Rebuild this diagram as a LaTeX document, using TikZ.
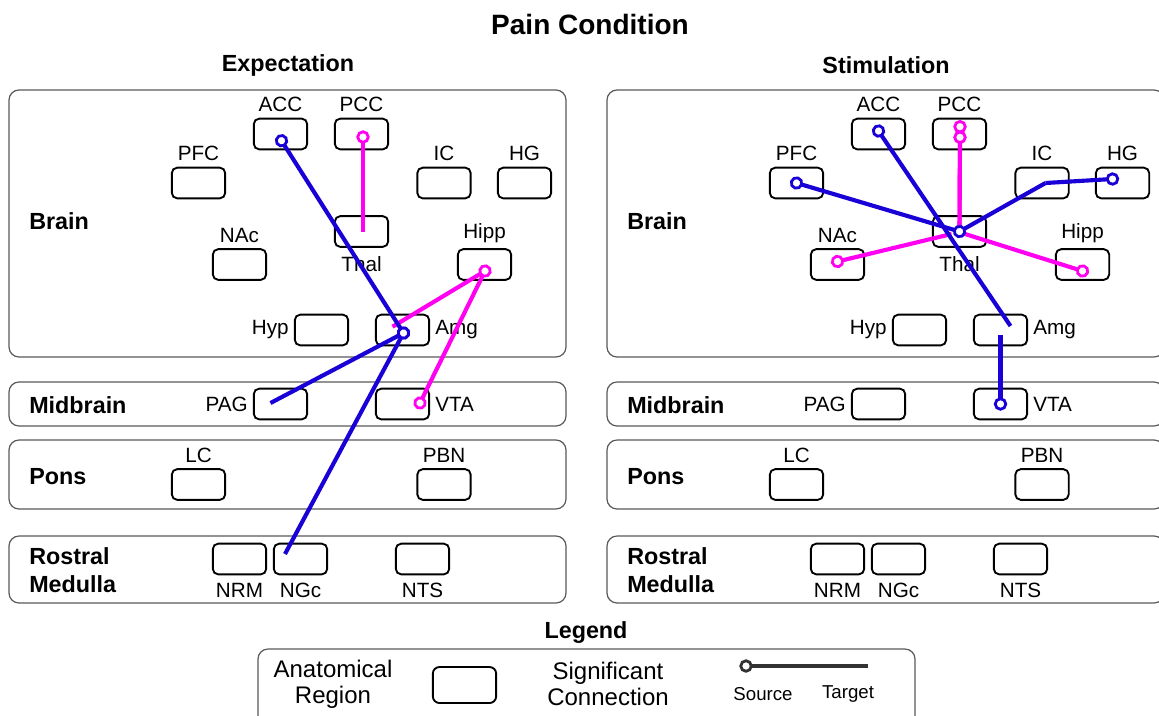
\documentclass[tikz,border=0pt]{standalone}
\usepackage{fontspec}
\setmainfont{Liberation Sans}
\usetikzlibrary{arrows.meta}
\definecolor{conblue}{RGB}{25,0,215}
\definecolor{conpink}{RGB}{255,0,240}
\tikzset{
  panel/.style={draw=black!65, line width=0.9pt, rounded corners=7.5pt},
  reg/.style={draw, line width=1.4pt, rounded corners=4pt, minimum width=40pt, minimum height=23pt, inner sep=0pt},
  lab/.style={font=\fontsize{15.5}{17}\selectfont, inner sep=1pt, yshift=3pt},
  labb/.style={font=\fontsize{15.5}{17}\selectfont, inner sep=1pt, yshift=-5pt},
  labl/.style={font=\fontsize{15.5}{17}\selectfont, inner sep=0pt, xshift=-3.7pt},
  labr/.style={font=\fontsize{15.5}{17}\selectfont, inner sep=0pt, xshift=3.7pt},
  head/.style={font=\bfseries\fontsize{17.5}{20}\selectfont},
  part/.style={font=\bfseries\fontsize{17.5}{21.5}\selectfont, anchor=west, align=left, inner sep=0pt},
  ltxt/.style={font=\fontsize{18}{19.5}\selectfont, align=center},
  stxt/.style={font=\fontsize{14}{15}\selectfont},
  con/.style={line width=3.1pt},
  src/.style={{Circle[length=10pt, fill=white, line width=2.1pt]}-, shorten <=-5pt},
}
\begin{document}
\begin{tikzpicture}[x=0.75pt, y=-0.75pt]
\useasboundingbox (0,0) rectangle (1159,715);
%Titles
\node[font=\bfseries\fontsize{21}{24}\selectfont] (title) at (590,24) {Pain Condition};
\node[head] (expt) at (288,65) {Expectation};
\node[head] (stim) at (886,65) {Stimulation};
%Expectation panel
\draw[panel] (9,90) rectangle (566,357);
\draw[panel] (9,382) rectangle (566,426);
\draw[panel] (9,440) rectangle (566,509);
\draw[panel] (9,536) rectangle (566,603);
\node[part] (ebrain) at (29,221) {Brain};
\node[part] (emid) at (29,405) {Midbrain};
\node[part] (epons) at (29,477) {Pons};
\node[part] (emed) at (29,570) {Rostral\\Medulla};
\node[reg, label={[lab]above:ACC}] (eACC) at (280.5,134) {};
\node[reg, label={[lab]above:PCC}] (ePCC) at (361.5,134) {};
\node[reg, label={[lab]above:PFC}] (ePFC) at (198.5,183) {};
\node[reg, label={[lab]above:IC}] (eIC) at (444,183) {};
\node[reg, label={[lab]above:HG}] (eHG) at (524.5,183) {};
\node[reg, label={[labb]below:Thal}] (eThal) at (361.5,231.5) {};
\node[reg, label={[lab]above:NAc}] (eNAc) at (239.5,264.5) {};
\node[reg, label={[lab]above:Hipp}] (eHipp) at (484.5,264.5) {};
\node[reg, label={[labl]left:Hyp}] (eHyp) at (321.5,330) {};
\node[reg, label={[labr]right:Amg}] (eAmg) at (402.5,330) {};
\node[reg, label={[labl]left:PAG}] (ePAG) at (280.5,404) {};
\node[reg, label={[labr]right:VTA}] (eVTA) at (402.5,404) {};
\node[reg, label={[lab]above:LC}] (eLC) at (198.5,484.5) {};
\node[reg, label={[lab]above:PBN}] (ePBN) at (444,484.5) {};
\node[reg, label={[labb]below:NRM}] (eNRM) at (239.5,559) {};
\node[reg, label={[labb]below:NGc}] (eNGc) at (300.5,559) {};
\node[reg, label={[labb]below:NTS}] (eNTS) at (422.5,559) {};
%Stimulation panel
\begin{scope}[xshift=448.5pt]
\draw[panel] (9,90) rectangle (566,357);
\draw[panel] (9,382) rectangle (566,426);
\draw[panel] (9,440) rectangle (566,509);
\draw[panel] (9,536) rectangle (566,603);
\node[part] (sbrain) at (29,221) {Brain};
\node[part] (smid) at (29,405) {Midbrain};
\node[part] (spons) at (29,477) {Pons};
\node[part] (smed) at (29,570) {Rostral\\Medulla};
\node[reg, label={[lab]above:ACC}] (sACC) at (280.5,134) {};
\node[reg, label={[lab]above:PCC}] (sPCC) at (361.5,134) {};
\node[reg, label={[lab]above:PFC}] (sPFC) at (198.5,183) {};
\node[reg, label={[lab]above:IC}] (sIC) at (444,183) {};
\node[reg, label={[lab]above:HG}] (sHG) at (524.5,183) {};
\node[reg, label={[labb]below:Thal}] (sThal) at (361.5,231.5) {};
\node[reg, label={[lab]above:NAc}] (sNAc) at (239.5,264.5) {};
\node[reg, label={[lab]above:Hipp}] (sHipp) at (484.5,264.5) {};
\node[reg, label={[labl]left:Hyp}] (sHyp) at (321.5,330) {};
\node[reg, label={[labr]right:Amg}] (sAmg) at (402.5,330) {};
\node[reg, label={[labl]left:PAG}] (sPAG) at (280.5,404) {};
\node[reg, label={[labr]right:VTA}] (sVTA) at (402.5,404) {};
\node[reg, label={[lab]above:LC}] (sLC) at (198.5,484.5) {};
\node[reg, label={[lab]above:PBN}] (sPBN) at (444,484.5) {};
\node[reg, label={[labb]below:NRM}] (sNRM) at (239.5,559) {};
\node[reg, label={[labb]below:NGc}] (sNGc) at (300.5,559) {};
\node[reg, label={[labb]below:NTS}] (sNTS) at (422.5,559) {};
\end{scope}
%Expectation connections
\draw[con, conpink, src] ([shift={(1.5,3)}]ePCC.center) -- ([shift={(1.5,0)}]eThal.center);
\draw[con, conpink, src] ([shift={(17.5,-1)}]eVTA.center) -- ([shift={(0.5,6.5)}]eHipp.center);
\draw[con, conpink, src] ([shift={(0.5,6.5)}]eHipp.center) -- ([shift={(-10,-3.3)}]eAmg.center);
\draw[con, conblue, src] ([shift={(1,6.7)}]eACC.center) -- ([shift={(1,3)}]eAmg.center);
\draw[con, conblue, src] ([shift={(1,3)}]eAmg.center) -- ([shift={(-10,-1)}]ePAG.center);
\draw[con, conblue, src] ([shift={(1,3)}]eAmg.center) -- ([shift={(-15.5,-5)}]eNGc.center);
%Stimulation connections
\draw[con, conpink, src] ([shift={(0.5,-7.3)}]sPCC.center) -- (sThal.center);
\draw[con, conpink, src] ([shift={(0.5,3.3)}]sPCC.center) -- (sThal.center);
\draw[con, conpink, src] ([shift={(0,-3)}]sNAc.center) -- ([shift={(-8,2.5)}]sThal.center);
\draw[con, conpink, src] ([shift={(0,6.5)}]sHipp.center) -- ([shift={(4,2)}]sThal.center);
\draw[con, conblue, src] ([shift={(0,-3)}]sACC.center) -- ([shift={(10,-4)}]sAmg.center);
\draw[con, conblue, src] (sPFC.center) -- (sThal.center);
\draw[con, conblue, src] ([shift={(-10,-4)}]sHG.center) -- ([shift={(3.5,0)}]sIC.center);
\draw[con, conblue, src] (sThal.center) -- ([shift={(3.5,0)}]sIC.center);
\draw[con, conblue, src] (sVTA.center) -- ([shift={(0,5)}]sAmg.center);
%Legend
\node[head] (leg) at (586,633) {Legend};
\draw[panel] (258,649) rectangle (915,730);
\node[ltxt] (anat) at (333,684) {Anatomical\\Region};
\node[reg, minimum width=47.5pt, minimum height=27pt, rounded corners=5pt] (lgbox) at (464.5,685) {};
\node[ltxt] (sig) at (608,684) {Significant\\Connection};
\coordinate (lgS) at (746,666);
\coordinate (lgT) at (868,666);
\draw[con, black!80, src] (lgS) -- (lgT);
\node[stxt] (lsrc) at (763,694) {Source};
\node[stxt] (ltgt) at (848,694) {Target};
\end{tikzpicture}
\end{document}
